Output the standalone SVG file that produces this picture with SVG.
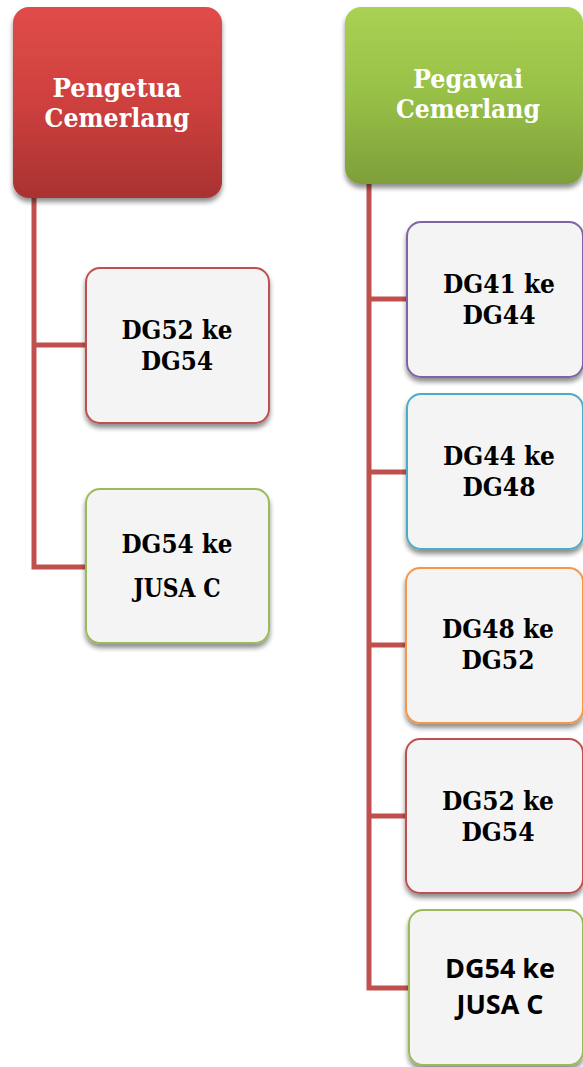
<svg xmlns="http://www.w3.org/2000/svg" width="583" height="1067" viewBox="0 0 583 1067">
<defs>
<linearGradient id="gRed" x1="0" y1="0" x2="0" y2="1">
<stop offset="0" stop-color="#E04C4A"/>
<stop offset="0.5" stop-color="#CE403E"/>
<stop offset="1" stop-color="#A93230"/>
</linearGradient>
<linearGradient id="gGreen" x1="0" y1="0" x2="0" y2="1">
<stop offset="0" stop-color="#A9D153"/>
<stop offset="0.5" stop-color="#97C047"/>
<stop offset="1" stop-color="#7E9F3A"/>
</linearGradient>
<filter id="sh" x="-10%" y="-10%" width="120%" height="125%">
<feGaussianBlur in="SourceAlpha" stdDeviation="2.5"/>
<feOffset dx="0" dy="4" result="b"/>
<feComponentTransfer><feFuncA type="linear" slope="0.45"/></feComponentTransfer>
<feMerge><feMergeNode/><feMergeNode in="SourceGraphic"/></feMerge>
</filter>
</defs>
<style>
.conn{stroke:#C0504D;stroke-width:5;fill:none;stroke-linecap:square}
.root{stroke:none}
.child{fill:#F4F4F4;stroke-width:2}
.rt{font-family:"DejaVu Serif","Liberation Serif",serif;font-weight:bold;font-size:26px;fill:#FFFFFF;text-anchor:middle}
.ct{font-family:"DejaVu Serif","Liberation Serif",serif;font-weight:bold;font-size:26px;fill:#000000;text-anchor:middle}
.cs{font-family:"Open Sans","Liberation Sans",sans-serif;font-weight:bold;font-size:27px;fill:#000000;text-anchor:middle}
</style>
<g id="connectors">
<path class="conn" d="M34 198 V567 M34 345 H86 M34 567 H86"/>
<path class="conn" d="M369 184 V988 M369 299 H407 M369 472 H407 M369 645 H406 M369 816 H406 M369 988 H409"/>
</g>
<g id="root-pengetua">
<rect class="root" x="13" y="7" width="209" height="191" rx="16" fill="url(#gRed)" filter="url(#sh)"/>
<text class="rt" x="117" y="97" textLength="129" lengthAdjust="spacingAndGlyphs">Pengetua</text>
<text class="rt" x="117" y="127" textLength="145" lengthAdjust="spacingAndGlyphs">Cemerlang</text>
</g>
<g id="root-pegawai">
<rect class="root" x="345" y="7" width="238" height="177" rx="16" fill="url(#gGreen)" filter="url(#sh)"/>
<text class="rt" x="468" y="88" textLength="110" lengthAdjust="spacingAndGlyphs">Pegawai</text>
<text class="rt" x="468" y="118" textLength="144" lengthAdjust="spacingAndGlyphs">Cemerlang</text>
</g>
<g id="l-dg52">
<rect class="child" x="86" y="268" width="183" height="155" rx="14" stroke="#C0504D" filter="url(#sh)"/>
<text class="ct" x="177" y="339" textLength="111" lengthAdjust="spacingAndGlyphs">DG52 ke</text>
<text class="ct" x="177" y="370" textLength="72" lengthAdjust="spacingAndGlyphs">DG54</text>
</g>
<g id="l-dg54">
<rect class="child" x="86" y="489" width="183" height="154" rx="14" stroke="#9BBB59" filter="url(#sh)"/>
<text class="ct" x="177" y="553" textLength="111" lengthAdjust="spacingAndGlyphs">DG54 ke</text>
<text class="ct" x="177" y="597" textLength="87" lengthAdjust="spacingAndGlyphs">JUSA C</text>
</g>
<g id="r-dg41">
<rect class="child" x="407" y="222" width="176" height="155" rx="14" stroke="#8064A2" filter="url(#sh)"/>
<text class="ct" x="499" y="293" textLength="112" lengthAdjust="spacingAndGlyphs">DG41 ke</text>
<text class="ct" x="499" y="324" textLength="73" lengthAdjust="spacingAndGlyphs">DG44</text>
</g>
<g id="r-dg44">
<rect class="child" x="407" y="394" width="176" height="155" rx="14" stroke="#4BACC6" filter="url(#sh)"/>
<text class="ct" x="499" y="465" textLength="112" lengthAdjust="spacingAndGlyphs">DG44 ke</text>
<text class="ct" x="499" y="496" textLength="73" lengthAdjust="spacingAndGlyphs">DG48</text>
</g>
<g id="r-dg48">
<rect class="child" x="406" y="568" width="177" height="155" rx="14" stroke="#F79646" filter="url(#sh)"/>
<text class="ct" x="498" y="638" textLength="112" lengthAdjust="spacingAndGlyphs">DG48 ke</text>
<text class="ct" x="498" y="669" textLength="73" lengthAdjust="spacingAndGlyphs">DG52</text>
</g>
<g id="r-dg52">
<rect class="child" x="406" y="739" width="177" height="154" rx="14" stroke="#C0504D" filter="url(#sh)"/>
<text class="ct" x="498" y="810" textLength="112" lengthAdjust="spacingAndGlyphs">DG52 ke</text>
<text class="ct" x="498" y="841" textLength="73" lengthAdjust="spacingAndGlyphs">DG54</text>
</g>
<g id="r-dg54">
<rect class="child" x="409" y="910" width="174" height="155" rx="14" stroke="#9BBB59" filter="url(#sh)"/>
<text class="cs" x="500" y="978">DG54 ke</text>
<text class="cs" x="500" y="1014">JUSA C</text>
</g>
</svg>
